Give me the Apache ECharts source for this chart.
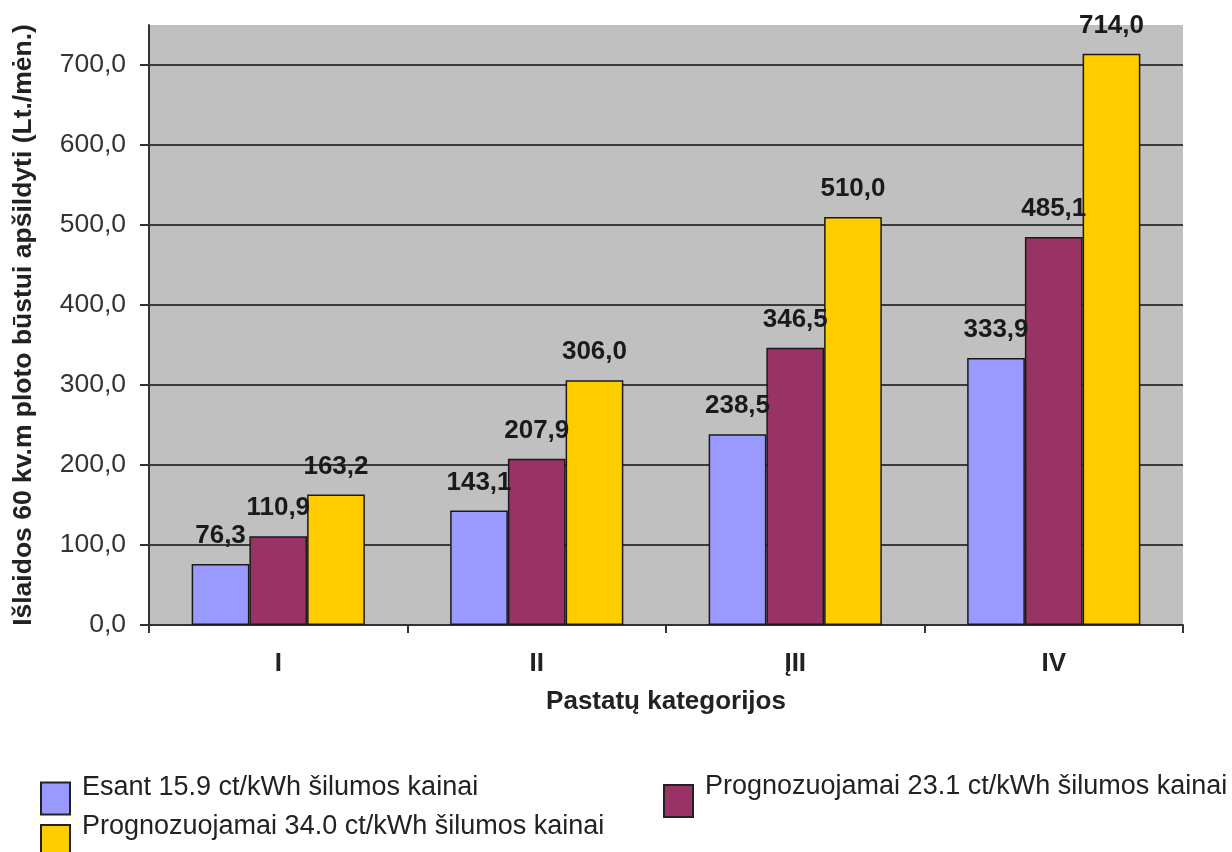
<!DOCTYPE html>
<html>
<head>
<meta charset="utf-8">
<script src="https://cdn.jsdelivr.net/npm/echarts@6/dist/echarts.min.js"></script>
<style>
    html, body { margin: 0; padding: 0; background: #fff; }
    #chart { width: 1232px; height: 852px; }
</style>
</head>
<body>
<div id="chart"></div>
<script>
const categories = ['I', 'II', 'ĮII', 'IV']
const seriesNames = [
    'Esant 15.9 ct/kWh šilumos kainai',
    'Prognozuojamai 23.1 ct/kWh šilumos kainai',
    'Prognozuojamai 34.0 ct/kWh šilumos kainai'
]
const current159 = [76.3, 143.1, 238.5, 333.9]
const forecast231 = [110.9, 207.9, 346.5, 485.1]
const forecast340 = [163.2, 306.0, 510.0, 714.0]
const colors = ['#9999ff', '#993366', '#ffcc00']

const font = 'Liberation Sans, Arial, sans-serif'
const fmt = v => v.toFixed(1).replace('.', ',')

const chart = echarts.init(document.getElementById('chart'))

function makeBar(name, data, color) {
    return {
        name: name,
        type: 'bar',
        data: data,
        barGap: '0%',
        barCategoryGap: '33%',
        itemStyle: { color: color, borderColor: '#1a1a1a', borderWidth: 1.5 },
        label: {
            show: true,
            position: 'top',
            distance: 15,
            fontFamily: font,
            fontSize: 26,
            fontWeight: 'bold',
            color: '#1a1a1a',
            formatter: p => fmt(p.value)
        }
    }
}

const iconH = 32

// text sits a bit above the icon centre, so push it up with an empty 2nd line;
// the taller text box shifts the item down, so take that back off top
function makeLegend(name, left, iconTop, lift) {
    return {
        data: [name],
        left: left,
        top: iconTop - (2 * lift - iconH / 2),
        itemWidth: 29,
        itemHeight: iconH,
        padding: 0,
        icon: 'rect',
        itemStyle: { borderColor: '#222', borderWidth: 2 },
        formatter: n => n + '\n ',
        textStyle: {
            fontFamily: font,
            fontSize: 27,
            color: '#222',
            lineHeight: lift * 2,
            padding: [0, 0, 0, 7]
        }
    }
}

chart.setOption({
    animation: false,
    backgroundColor: '#fff',
    color: colors,
    grid: {
        left: 149,
        right: 49,
        top: 25,
        bottom: 227,
        show: true,
        backgroundColor: '#c0c0c0',
        borderWidth: 0
    },
    legend: [
        makeLegend(seriesNames[0], 40, 780, 11),
        makeLegend(seriesNames[1], 663, 785, 14),
        makeLegend(seriesNames[2], 40, 825, 14)
    ],
    xAxis: {
        type: 'category',
        data: categories,
        name: 'Pastatų kategorijos',
        nameLocation: 'middle',
        nameGap: 64,
        nameTextStyle: { fontFamily: font, fontSize: 26, fontWeight: 'bold', color: '#222' },
        axisLine: { lineStyle: { color: '#333', width: 2 } },
        axisTick: { show: true, length: 8, lineStyle: { color: '#333', width: 2 } },
        axisLabel: { margin: 26, fontFamily: font, fontSize: 26, fontWeight: 'bold', color: '#222' }
    },
    yAxis: {
        type: 'value',
        min: 0,
        max: 750,
        interval: 100,
        name: 'Išlaidos 60 kv.m ploto būstui apšildyti (Lt./mėn.)',
        nameLocation: 'middle',
        nameGap: 112,
        nameTextStyle: { fontFamily: font, fontSize: 26.5, fontWeight: 'bold', color: '#222' },
        axisLine: { show: true, lineStyle: { color: '#333', width: 2 } },
        axisTick: { show: true, length: 9, lineStyle: { color: '#333', width: 2 } },
        axisLabel: {
            margin: 23,
            fontFamily: font,
            fontSize: 26.5,
            color: '#333',
            showMaxLabel: false,
            formatter: v => (v > 700 ? '' : fmt(v))
        },
        splitLine: { showMaxLine: false, lineStyle: { color: '#3a3a3a', width: 2 } }
    },
    series: [
        makeBar(seriesNames[0], current159, colors[0]),
        makeBar(seriesNames[1], forecast231, colors[1]),
        makeBar(seriesNames[2], forecast340, colors[2])
    ]
})
</script>
</body>
</html>
